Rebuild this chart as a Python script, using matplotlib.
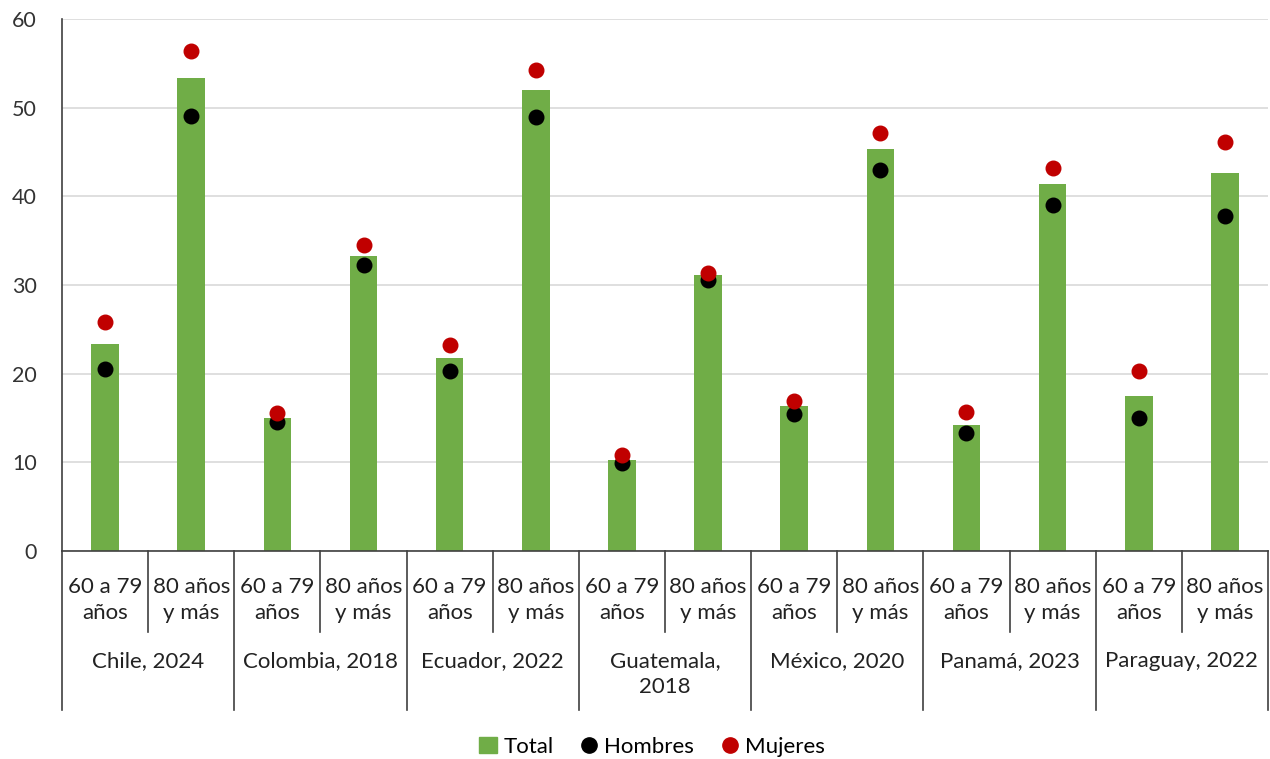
import matplotlib
matplotlib.use("Agg")
from matplotlib import pyplot as plt
from matplotlib.lines import Line2D
from matplotlib.patches import Patch
import numpy as np

plt.rcParams['font.family'] = ['Lato', 'DejaVu Sans']

countries = ["Chile, 2024", "Colombia, 2018", "Ecuador, 2022", "Guatemala,\n2018",
             "México, 2020", "Panamá, 2023", "Paraguay, 2022"]
age_groups = ["60 a 79\naños", "80 años\ny más"]

total = [23.3, 53.4, 15.0, 33.3, 21.8, 52.0, 10.3, 31.1, 16.3, 45.3, 14.2, 41.4, 17.5, 42.6]
hombres = [20.5, 49.1, 14.5, 32.3, 20.3, 49.0, 9.9, 30.6, 15.5, 43.0, 13.3, 39.0, 15.0, 37.8]
mujeres = [25.8, 56.4, 15.6, 34.5, 23.2, 54.3, 10.8, 31.4, 16.9, 47.1, 15.7, 43.2, 20.3, 46.1]

green = '#70AD47'
red = '#C00000'
line_col = '#404040'

fig = plt.figure(figsize=(12.7, 7.59), dpi=100)
ax = fig.add_axes([62 / 1270, 1 - 551 / 759, 1206 / 1270, 532 / 759])

x = np.arange(len(total))
ax.bar(x, total, width=0.32, color=green, zorder=2)
ax.scatter(x, hombres, s=110, color='black', zorder=3)
ax.scatter(x, mujeres, s=110, color=red, zorder=3)

ax.set_xlim(-0.5, len(total) - 0.5)
ax.set_ylim(0, 60)
ax.set_yticks(range(0, 61, 10))
ax.tick_params(axis='y', length=0, labelsize=15.5, colors='#333333', pad=18)
ax.set_xticks([])
ax.grid(axis='y', color='#d9d9d9', linewidth=1.2, zorder=0)
for s in ['top', 'right']:
    ax.spines[s].set_visible(False)
ax.spines['left'].set_color(line_col)
ax.spines['bottom'].set_color(line_col)
ax.spines['left'].set_linewidth(1.2)
ax.spines['bottom'].set_linewidth(1.2)

# category labels below the axis
trans = ax.get_xaxis_transform()
inner_bottom = -0.152
outer_bottom = -0.299
for i in range(len(total)):
    ax.text(i, -0.092, age_groups[i % 2], transform=trans, ha='center', va='center',
            fontsize=16, color='#222222', linespacing=1.35)
for j, c in enumerate(countries):
    ax.text(2 * j + 0.5, -0.188, c, transform=trans, ha='center', va='top',
            fontsize=16, color='#222222', linespacing=1.35)

for k in range(len(total) + 1):
    xb = k - 0.5
    bottom = outer_bottom if k % 2 == 0 else inner_bottom
    ax.add_line(Line2D([xb, xb], [0, bottom], transform=trans, color=line_col,
                       linewidth=1.2, clip_on=False))

handles = [Patch(color=green, label='Total'),
           Line2D([], [], marker='o', linestyle='none', color='black', markersize=11, label='Hombres'),
           Line2D([], [], marker='o', linestyle='none', color=red, markersize=11, label='Mujeres')]
fig.legend(handles=handles, loc='center', bbox_to_anchor=(652 / 1270, 1 - 747 / 759), ncol=3,
           frameon=False, fontsize=16, handlelength=0.8, handletextpad=0.3, columnspacing=1.2)

fig.savefig('out.png', dpi=100)
